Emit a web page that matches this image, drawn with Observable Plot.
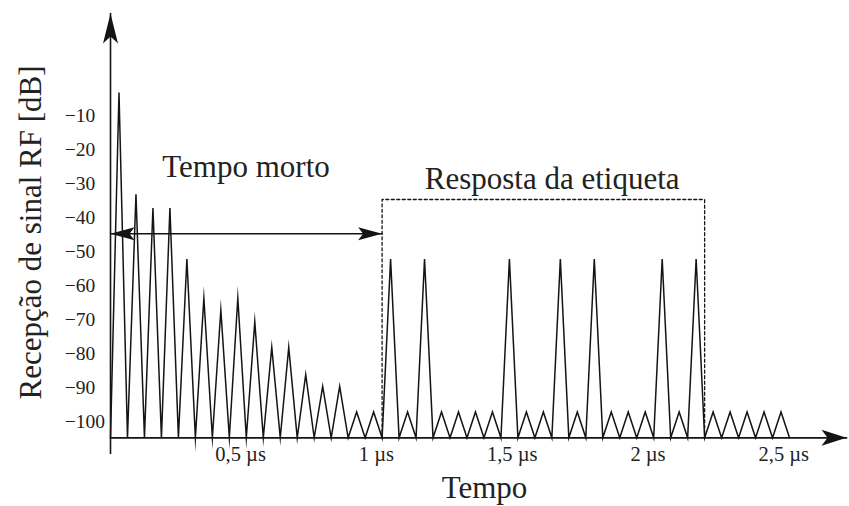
<!DOCTYPE html>
<html><head><meta charset="utf-8">
<script src="https://cdn.jsdelivr.net/npm/d3@7"></script>
<script src="https://cdn.jsdelivr.net/npm/@observablehq/plot@0.6"></script>
<style>body{margin:0;background:#fff} svg{display:block}</style>
</head><body><div id="chart"></div>
<script>
// ---- data ----
const slotPeriod = 1 / 16;          // µs per pulse slot
const signalStart = 0.021;          // µs, where the trace (and y axis) begins
const baselineDb = -104.6;          // floor of the trace / x axis level
const deadTimePeaks = [-3, -33, -37, -37, -52, -63.5, -67, -63.5, -70.5, -78, -78, -86, -89.5, -89.5, -97, -97];
const responsePeaks = [-52, -97, -52, -97, -97, -97, -97, -52, -97, -97, -52, -97, -52, -97, -97, -97, -52, -97, -52];
const trailingPeaks = [-97, -97, -97, -97, -97];
const xTicks = [0.5, 1, 1.5, 2, 2.5];
const xTickLabels = ["0,5 µs", "1 µs", "1,5 µs", "2 µs", "2,5 µs"];
const yTicks = [-10, -20, -30, -40, -50, -60, -70, -80, -90, -100];
const yTickLabels = ["−10", "−20", "−30", "−40", "−50", "−60", "−70", "−80", "−90", "−100"];
const deadTimeLabel = "Tempo morto";
const responseLabel = "Resposta da etiqueta";
const xTitle = "Tempo";
const yTitle = "Recepção de sinal RF [dB]";
// annotation levels (dB) and axis extents
const responseBoxTop = -34.5;
const deadArrowLevel = -44.6;
const deadLabelPos = {t: 0.52, db: -25};
const responseLabelPos = {t: 1.647, db: -28.4};
const yAxisBottom = -109.2, yAxisTip = 20.2, xAxisTip = 2.731;

// ---- derived geometry ----
const allPeaks = [...deadTimePeaks, ...responsePeaks, ...trailingPeaks];
const slotT = k => signalStart + k * slotPeriod;
const trace = [];
allPeaks.forEach((v, k) => {
  trace.push({t: slotT(k), db: baselineDb});
  trace.push({t: slotT(k + 0.5), db: v});
});
trace.push({t: slotT(allPeaks.length), db: baselineDb});
const respStart = slotT(deadTimePeaks.length);
const respEnd = slotT(deadTimePeaks.length + responsePeaks.length);
const box = [
  {t: respStart, db: baselineDb}, {t: respStart, db: responseBoxTop},
  {t: respEnd, db: responseBoxTop}, {t: respEnd, db: baselineDb}
];

function stealth(dx, dy, len, half, notch) {
  return {draw(ctx) {
    const px = -dy, py = dx;
    ctx.moveTo(0, 0);
    ctx.lineTo(-dx * len + px * half, -dy * len + py * half);
    ctx.lineTo(-dx * (len - notch), -dy * (len - notch));
    ctx.lineTo(-dx * len - px * half, -dy * len - py * half);
    ctx.closePath();
  }};
}
const ink = "#141414";
const font = "Liberation Serif, Times New Roman, serif";

const chart = Plot.plot({
  width: 849, height: 506,
  marginLeft: 104.3, marginRight: 65.7, marginTop: 81.7, marginBottom: 68.7,
  x: {domain: [0, 2.5], axis: null},
  y: {domain: [baselineDb, 0], axis: null},
  style: {fontFamily: font, background: "#fff", color: ink},
  marks: [
    // axes
    Plot.line([{t: signalStart, db: yAxisBottom}, {t: signalStart, db: yAxisTip}], {x: "t", y: "db", stroke: ink, strokeWidth: 1.6}),
    Plot.line([{t: signalStart, db: baselineDb}, {t: xAxisTip, db: baselineDb}], {x: "t", y: "db", stroke: ink, strokeWidth: 1.8}),
    Plot.dot([{t: signalStart, db: yAxisTip}], {x: "t", y: "db", symbol: stealth(0, -1, 30, 7.5, 7), fill: ink, stroke: "none"}),
    Plot.dot([{t: xAxisTip, db: baselineDb}], {x: "t", y: "db", symbol: stealth(1, 0, 25, 8, 6), fill: ink, stroke: "none"}),
    // tick labels
    Plot.text(yTicks, {y: d => d, text: (d, i) => yTickLabels[i], frameAnchor: "left", dx: -40, textAnchor: "start", fontSize: 19.5, fill: "#222"}),
    Plot.text(xTicks, {x: d => d, text: (d, i) => xTickLabels[i], frameAnchor: "bottom", dy: 23, fontSize: 20.5, fill: "#222"}),
    // axis titles
    Plot.text([xTitle], {x: 1.398, text: d => d, frameAnchor: "bottom", dy: 60, fontSize: 31, fill: "#222"}),
    Plot.text([yTitle], {y: -44.2, text: d => d, frameAnchor: "left", dx: -74, rotate: -90, textAnchor: "middle", lineAnchor: "middle", fontSize: 31, fill: "#222"}),
    // response bracket
    Plot.line(box, {x: "t", y: "db", stroke: ink, strokeWidth: 1.3, strokeDasharray: "3,2.5"}),
    // dead time double arrow
    Plot.line([{t: signalStart, db: deadArrowLevel}, {t: respStart, db: deadArrowLevel}], {x: "t", y: "db", stroke: ink, strokeWidth: 1.5}),
    Plot.dot([{t: signalStart, db: deadArrowLevel}], {x: "t", y: "db", symbol: stealth(-1, 0, 24, 6.5, 5), fill: ink, stroke: "none"}),
    Plot.dot([{t: respStart, db: deadArrowLevel}], {x: "t", y: "db", symbol: stealth(1, 0, 24, 6.5, 5), fill: ink, stroke: "none"}),
    // signal trace
    Plot.line(trace, {x: "t", y: "db", stroke: ink, strokeWidth: 1.5, strokeLinejoin: "miter", strokeMiterlimit: 20}),
    // annotations
    Plot.text([deadTimeLabel], {x: deadLabelPos.t, y: deadLabelPos.db, text: d => d, fontSize: 31, fill: "#222"}),
    Plot.text([responseLabel], {x: responseLabelPos.t, y: responseLabelPos.db, text: d => d, fontSize: 31, fill: "#222"})
  ]
});
document.getElementById("chart").append(chart);
</script>
</body></html>
